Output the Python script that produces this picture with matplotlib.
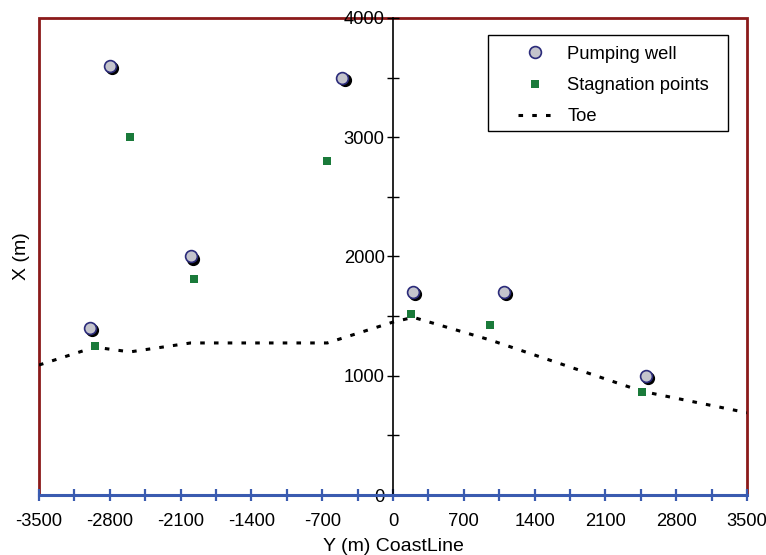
import numpy as np
import matplotlib
matplotlib.use("Agg")
import matplotlib.pyplot as plt
from matplotlib.patches import Rectangle
from matplotlib.ticker import MultipleLocator
from matplotlib.transforms import offset_copy

plt.rcParams["font.family"] = ["Liberation Sans", "DejaVu Sans"]
plt.rcParams["axes.unicode_minus"] = False

# pumping wells (Y along coast, X inland)
well_y = [-2800, -500, -2000, -3000, 200, 1100, 2500]
well_x = [3600, 3500, 2000, 1400, 1700, 1700, 1000]

# stagnation points
stag_y = [-2600, -650, -1970, -2950, 180, 960, 2460]
stag_x = [3000, 2800, 1810, 1250, 1520, 1425, 865]

# toe of the saltwater wedge
toe_y = [-3500, -2950, -2600, -2000, -650, 0, 200, 960, 2460, 3500]
toe_x = [1090, 1240, 1200, 1275, 1275, 1450, 1490, 1300, 870, 690]

frame_red = "#8B1A1A"
axis_blue = "#3A5BB0"

fig = plt.figure(figsize=(7.66, 5.55), dpi=100)
ax = fig.add_axes([0.0509, 0.1081, 0.9243, 0.8595])

ax.plot(toe_y, toe_x, color="black", lw=2.2, dashes=(1.5, 3.0),
        label="Toe", zorder=3)

ax.plot(stag_y, stag_x, "s", color="#1A7A3A", markersize=5.5,
        markeredgewidth=0, label="Stagnation points", zorder=4)

# shadow under the wells
shadow = offset_copy(ax.transData, fig=fig, x=1.6, y=-1.6, units="points")
ax.plot(well_y, well_x, "o", color="black", markersize=8.5,
        transform=shadow, zorder=5)
ax.plot(well_y, well_x, "o", markerfacecolor="#C4C4CC",
        markeredgecolor="#2B2B7A", markeredgewidth=1.2, markersize=8.5,
        linestyle="none", label="Pumping well", zorder=6)

ax.set_xlim(-3500, 3500)
ax.set_ylim(0, 4000)

# red frame
ax.add_patch(Rectangle((0, 0), 1, 1, transform=ax.transAxes, fill=False,
                       edgecolor=frame_red, lw=2, zorder=1, clip_on=False))
ax.spines["top"].set_visible(False)
ax.spines["right"].set_visible(False)

# y axis through x = 0
ax.spines["left"].set_position(("data", 0))
ax.spines["left"].set_color("black")
ax.spines["left"].set_linewidth(1.2)
ax.spines["bottom"].set_color(axis_blue)
ax.spines["bottom"].set_linewidth(2.2)
ax.spines["bottom"].set_zorder(3)

ax.xaxis.set_major_locator(MultipleLocator(700))
ax.xaxis.set_minor_locator(MultipleLocator(350))
ax.yaxis.set_major_locator(MultipleLocator(1000))
ax.yaxis.set_minor_locator(MultipleLocator(500))

ax.tick_params(axis="x", which="both", direction="inout", length=8,
               width=1.6, color=axis_blue, labelsize=13.2, pad=9)
ax.tick_params(axis="y", which="both", direction="inout", length=8,
               width=1.0, color="black", labelsize=13.2, pad=2)

ax.set_xlabel("Y (m) CoastLine", fontsize=14, labelpad=6)
ax.set_ylabel("X (m)", fontsize=14)
ax.yaxis.set_label_coords(-0.012, 0.5)

# legend: entries without frame, box drawn separately
handles, labels = ax.get_legend_handles_labels()
order = [2, 1, 0]
leg = ax.legend([handles[i] for i in order], [labels[i] for i in order],
                loc="upper left", bbox_to_anchor=(0.6766, 0.9415),
                borderaxespad=0, borderpad=0, fontsize=13.2,
                frameon=False, labelspacing=0.77, handlelength=1.86,
                handletextpad=0.82)
leg.set_zorder(8)
ax.add_patch(Rectangle((0.634, 0.763), 0.339, 0.2014,
                       transform=ax.transAxes, facecolor="white",
                       edgecolor="black", lw=1.0, zorder=7))

fig.savefig("out.png", dpi=100)
